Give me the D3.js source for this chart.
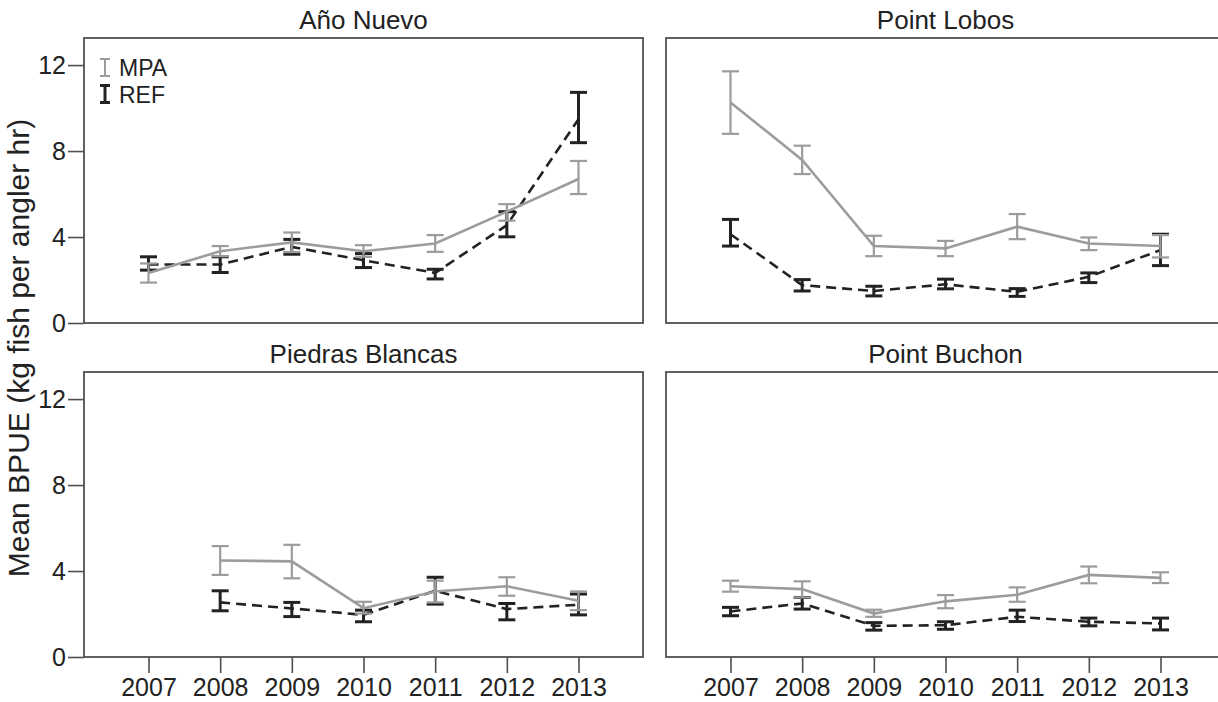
<!DOCTYPE html>
<html><head><meta charset="utf-8">
<script src="https://cdn.jsdelivr.net/npm/d3@7"></script>
<style>body{margin:0;background:#fff}svg{display:block}text{font-family:"Liberation Sans",Arial,sans-serif}</style>
</head><body><svg id="c" width="1218" height="702"></svg>
<script>
const years = ["2007","2008","2009","2010","2011","2012","2013"];
const sites = ["Año Nuevo","Point Lobos","Piedras Blancas","Point Buchon"];
const yTicks = [0,4,8,12];
const seriesNames = ["MPA","REF"];

// Año Nuevo
const anMpaMean = [2.33,3.34,3.75,3.34,3.70,5.18,6.70];
const anMpaLo   = [1.88,3.11,3.30,3.08,3.31,4.76,6.00];
const anMpaHi   = [2.77,3.58,4.21,3.62,4.09,5.53,7.54];
const anRefMean = [2.72,2.72,3.54,2.92,2.33,4.55,9.48];
const anRefLo   = [2.46,2.35,3.20,2.58,2.05,4.01,8.39];
const anRefHi   = [3.08,3.08,3.89,3.23,2.50,5.18,10.73];
// Point Lobos
const plMpaMean = [10.26,7.59,3.58,3.47,4.48,3.70,3.58];
const plMpaLo   = [8.80,6.93,3.11,3.11,3.90,3.39,3.05];
const plMpaHi   = [11.71,8.25,4.06,3.82,5.07,3.98,4.09];
const plRefMean = [4.13,1.76,1.49,1.80,1.45,2.15,3.39];
const plRefLo   = [3.58,1.49,1.26,1.59,1.24,1.88,2.67];
const plRefHi   = [4.82,2.02,1.71,2.04,1.60,2.33,4.13];
// Piedras Blancas (no 2007 data)
const pbMpaMean = [null,4.49,4.45,2.27,3.05,3.29,2.62];
const pbMpaLo   = [null,3.82,3.66,2.02,2.54,2.85,2.18];
const pbMpaHi   = [null,5.16,5.22,2.57,3.55,3.71,3.05];
const pbRefMean = [null,2.54,2.26,1.96,3.08,2.23,2.43];
const pbRefLo   = [null,2.15,1.88,1.64,2.46,1.73,1.96];
const pbRefHi   = [null,3.08,2.54,2.18,3.71,2.49,2.93];
// Point Buchon
const buMpaMean = [3.29,3.16,2.02,2.59,2.90,3.82,3.68];
const buMpaLo   = [3.04,2.77,1.87,2.27,2.57,3.43,3.44];
const buMpaHi   = [3.55,3.52,2.20,2.88,3.24,4.21,3.94];
const buRefMean = [2.12,2.49,1.45,1.48,1.87,1.64,1.56];
const buRefLo   = [1.92,2.23,1.25,1.29,1.65,1.45,1.26];
const buRefHi   = [2.31,2.77,1.60,1.64,2.18,1.81,1.81];

const siteData = [
  {mpa:[anMpaMean,anMpaLo,anMpaHi], ref:[anRefMean,anRefLo,anRefHi]},
  {mpa:[plMpaMean,plMpaLo,plMpaHi], ref:[plRefMean,plRefLo,plRefHi]},
  {mpa:[pbMpaMean,pbMpaLo,pbMpaHi], ref:[pbRefMean,pbRefLo,pbRefHi]},
  {mpa:[buMpaMean,buMpaLo,buMpaHi], ref:[buRefMean,buRefLo,buRefHi]}
];

const svg = d3.select("#c");
const PW = 559, PH = 285;
const originsX = [84, 666], originsY = [38, 372];
const GRAY = "#9c9c9c", DARK = "#222", FRAME = "#505050";
const FONT = '"Liberation Sans",Arial,sans-serif';

const x = d3.scalePoint().domain(years).range([0, PW]).padding(0.9);
const y = d3.scaleLinear().domain([0, 13.26]).range([PH, 0]);

sites.forEach((name, i) => {
  const col = i % 2, row = Math.floor(i / 2);
  const g = svg.append("g").attr("transform", `translate(${originsX[col]},${originsY[row]})`);
  g.append("rect").attr("width", PW).attr("height", PH)
    .attr("fill", "none").attr("stroke", FRAME).attr("stroke-width", 1.8);
  g.append("text").attr("x", PW / 2).attr("y", -9).attr("text-anchor", "middle")
    .attr("font-size", 26).attr("fill", "#222").text(name);

  if (col === 0) {
    const ax = g.append("g").call(d3.axisLeft(y).tickValues(yTicks).tickSize(16).tickPadding(2));
    ax.select(".domain").remove();
    ax.selectAll("line").attr("stroke", FRAME).attr("stroke-width", 1.6);
    ax.selectAll("text").attr("font-size", 25).attr("fill", "#222").style("font-family", FONT);
  }
  if (row === 1) {
    const ax = g.append("g").attr("transform", `translate(0,${PH})`)
      .call(d3.axisBottom(x).tickSize(16).tickPadding(5));
    ax.select(".domain").remove();
    ax.selectAll("line").attr("stroke", FRAME).attr("stroke-width", 1.6);
    ax.selectAll("text").attr("font-size", 25).attr("fill", "#222").style("font-family", FONT);
  }

  const d = siteData[i];
  const mk = arr => years.map((yr, k) => ({yr, m: arr[0][k], lo: arr[1][k], hi: arr[2][k]})).filter(p => p.m != null);
  const mpa = mk(d.mpa), ref = mk(d.ref);
  const line = d3.line().x(p => x(p.yr)).y(p => y(p.m));

  const drawBars = (pts, color, sw) => {
    const eb = g.append("g").attr("stroke", color).attr("stroke-width", sw).attr("fill", "none");
    pts.forEach(p => {
      const cx = x(p.yr);
      eb.append("line").attr("x1", cx).attr("x2", cx).attr("y1", y(p.lo)).attr("y2", y(p.hi));
      eb.append("line").attr("x1", cx - 8.5).attr("x2", cx + 8.5).attr("y1", y(p.lo)).attr("y2", y(p.lo));
      eb.append("line").attr("x1", cx - 8.5).attr("x2", cx + 8.5).attr("y1", y(p.hi)).attr("y2", y(p.hi));
    });
  };

  g.append("path").datum(ref).attr("d", line).attr("fill", "none")
    .attr("stroke", DARK).attr("stroke-width", 2.6).attr("stroke-dasharray", "10,6");
  drawBars(ref, DARK, 3);
  g.append("path").datum(mpa).attr("d", line).attr("fill", "none")
    .attr("stroke", GRAY).attr("stroke-width", 2.6);
  drawBars(mpa, GRAY, 2.2);

  if (i === 0) {
    const lg = g.append("g");
    const items = [{n: seriesNames[0], c: GRAY, w: 2}, {n: seriesNames[1], c: DARK, w: 3}];
    items.forEach((it, k) => {
      const by = 38 + k * 26.5;
      const ix = 21;
      const gi = lg.append("g").attr("stroke", it.c).attr("stroke-width", it.w);
      gi.append("line").attr("x1", ix).attr("x2", ix).attr("y1", by - 17).attr("y2", by);
      gi.append("line").attr("x1", ix - 5).attr("x2", ix + 5).attr("y1", by - 17).attr("y2", by - 17);
      gi.append("line").attr("x1", ix - 5).attr("x2", ix + 5).attr("y1", by).attr("y2", by);
      lg.append("text").attr("x", 35).attr("y", by).attr("font-size", 23).attr("fill", "#222").text(it.n);
    });
  }
});

svg.append("text")
  .attr("transform", "translate(29,348) rotate(-90)")
  .attr("text-anchor", "middle").attr("font-size", 30).attr("fill", "#222")
  .text("Mean BPUE (kg fish per angler hr)");
</script></body></html>
